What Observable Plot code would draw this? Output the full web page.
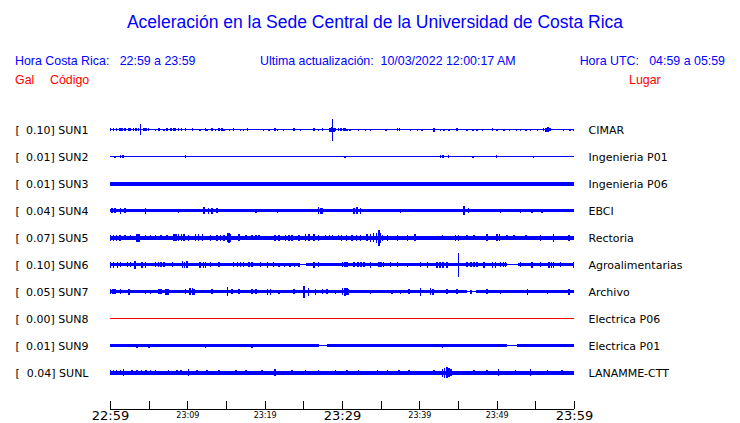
<!DOCTYPE html>
<html><head><meta charset="utf-8">
<script src="https://cdn.jsdelivr.net/npm/d3@7"></script>
<script src="https://cdn.jsdelivr.net/npm/@observablehq/plot@0.6"></script>
<style>
body{margin:0;background:#fff;width:740px;height:423px;overflow:hidden}
#head{position:relative;height:90px;font-family:"Liberation Sans",Arial,sans-serif;white-space:pre}
#head div{position:absolute;line-height:1}
.blue{color:#0000ff}.red{color:#ff0000}
#chart svg{display:block}
</style></head><body>
<div id="head"></div>
<div id="chart"></div>
<script>
// ---- texts ----
const title = "Aceleración en la Sede Central de la Universidad de Costa Rica";
const horaCR = "Hora Costa Rica:   22:59 a 23:59";
const ultima = "Ultima actualización:  10/03/2022 12:00:17 AM";
const horaUTC = "Hora UTC:   04:59 a 05:59";
const colGal = "Gal", colCodigo = "Código", colLugar = "Lugar";

// ---- stations ----
const codes  = ["SUN1","SUN2","SUN3","SUN4","SUN5","SUN6","SUN7","SUN8","SUN9","SUNL"];
const galMax = ["0.10","0.01","0.01","0.04","0.07","0.10","0.05","0.00","0.01","0.04"];
const places = ["CIMAR","Ingenieria P01","Ingenieria P06","EBCI","Rectoria","Agroalimentarias","Archivo","Electrica P06","Electrica P01","LANAMME-CTT"];
// background (noise) half-amplitude of each trace, relative units
const baseAmp = [0.5, 0.5, 2.0, 1.5, 2.0, 1.5, 1.5, 0.5, 1.5, 2.0];
// quiet stretches [startMinute, endMinute]
const quiet = {
  SUN6: [[24.5,25.4],[51.4,52.7]],
  SUN7: [[46.2,47.3]],
  SUN9: [[27.0,28.1],[51.3,52.6]]
};
// bursts [minute after 22:59, half-amplitude]
const bursts = {
  SUN1: [[0,1.5],[0.4,1.5],[0.8,1.5],[1.2,1.5],[1.5,1.5],[1.9,1.5],[2.4,1.5],[2.6,1.5],[3.0,1.5],[3.3,1.5],[3.6,1.5],[3.9,5.5],[4.3,1.5],[4.6,1.5],[4.9,1.5],[5.8,1],[6.25,1.5],[6.9,1],[7.3,1.5],[7.8,1.5],[8.2,1.5],[8.4,1.5],[8.8,1.5],[9.2,1.5],[9.7,1.5],[10.6,1.5],[11.6,1],[12.3,1.5],[12.5,1],[13.1,1.5],[13.6,1],[14.0,1.5],[14.4,1.5],[14.7,1],[15.4,1],[15.9,1.5],[16.8,1],[17.2,1],[17.7,1.5],[19.8,1],[20.5,1],[21.3,1.5],[21.6,1],[22.4,1],[23.7,1.5],[24.6,1],[26.3,1.5],[26.9,1],[27.4,1.5],[28.4,2],[28.6,2.5],[28.7,11],[28.9,2],[29.1,1.5],[29.5,1.5],[29.8,1.5],[30.1,1.5],[30.3,1.5],[30.6,1],[31.0,1],[32.1,1],[33.0,1],[33.6,1],[35.6,1],[37.1,1.5],[37.4,1.5],[38.8,1],[39.7,1],[40.3,1],[41.8,2],[42.7,1],[43.1,1],[43.8,1],[44.8,1.5],[46.1,1],[46.9,1],[47.4,1],[48.1,1],[49.4,1.5],[50.0,1],[50.9,1],[51.6,1],[52.5,1],[53.0,1],[53.7,1],[54.3,1],[55.2,1],[56.0,1.5],[56.3,2],[56.6,2.5],[56.8,1.5],[58.6,1],[59.4,1],[59.9,1]],
  SUN2: [[0.6,1],[1.3,1.5],[1.6,1.5],[9.7,1.5],[30.3,1],[42.7,1.5],[43.0,1.5],[43.7,1.5],[46.9,1],[49.9,1.5],[54.7,1]],
  SUN3: [],
  SUN4: [[0.2,2.5],[0.6,2.5],[1.3,3],[1.9,2.5],[4.5,3],[8.8,2],[12.1,3.5],[12.7,3],[13.1,3],[13.8,2.5],[18.8,2],[21.6,2],[26.9,3.5],[27.2,3],[27.4,3],[31.5,3],[31.9,3.5],[32.3,3],[37.5,2],[45.7,4.5],[46.3,2.5],[50.4,2],[53.0,2],[54.5,2],[55.8,2]],
  SUN5: [[0,3],[0.4,3],[0.8,3],[1.2,3],[1.9,2.5],[2.6,2.5],[3.4,4],[3.7,4],[4.5,2.5],[5.2,2.5],[5.8,2.5],[6.5,2.5],[7.3,2.5],[8.2,3.5],[8.5,3.5],[8.8,3.5],[9.2,3.5],[9.5,3.5],[10.1,3],[11.0,3.5],[11.4,3.5],[11.9,3.5],[12.9,3],[13.8,3],[14.2,3],[14.7,3],[15.1,4.5],[15.3,5],[15.5,4],[16.6,3.5],[17.5,2.5],[18.3,2.5],[18.8,2.5],[19.2,2.5],[21.3,3],[21.8,3],[22.6,3],[23.1,3],[23.5,3],[24.4,3],[25.2,3.5],[25.7,3.5],[26.3,3.5],[26.9,3],[27.8,2.5],[28.3,2.5],[28.7,2.5],[29.5,2.5],[29.9,3],[30.5,3],[31.2,3],[31.8,3],[32.3,3],[33.2,3.5],[33.6,4],[34.0,4.5],[34.4,5],[34.7,8],[34.9,5],[35.2,3],[35.8,3],[37.1,3],[38.4,3],[39.4,3.5],[42.9,2.5],[44.6,3],[45.0,3],[46.1,2.5],[47.0,2.5],[48.7,3.5],[50.0,3.5],[50.3,3.5],[51.3,2.5],[52.2,2.5],[53.7,2.5],[55.6,3],[57.3,4],[59.3,3]],
  SUN6: [[0,3],[0.4,3],[0.9,3],[1.3,2.5],[2.2,2.5],[2.6,2.5],[3.2,4],[4.1,3],[4.5,3],[5.8,2.5],[6.2,2.5],[6.5,2.5],[6.9,2.5],[8.0,2.5],[9.3,3.5],[9.6,3],[9.9,3.5],[11.6,3],[12.0,3],[12.3,3],[12.9,2.5],[14.0,2.5],[15.9,2.5],[16.4,2.5],[16.8,2.5],[17.2,2.5],[17.9,2.5],[18.3,2.5],[19.4,2.5],[20.3,3],[21.1,2.5],[21.8,2],[22.5,2],[23.2,2],[23.8,2],[24.4,2],[26.3,3],[26.9,2.5],[30.0,2.5],[30.3,2.5],[30.6,2.5],[31.5,2.5],[32.0,2.5],[32.4,2.5],[32.8,2.5],[33.6,3],[34.7,2.5],[35.0,2.5],[35.3,2.5],[36.2,2.5],[37.1,2.5],[38.4,2],[40.1,2.5],[41.0,3],[42.2,3],[42.6,3],[43.0,3],[43.5,3],[45.0,12],[46.1,2.5],[46.6,2.5],[47.0,2.5],[47.4,2.5],[48.3,3],[49.4,3],[49.8,3],[50.4,2.5],[50.8,2.5],[51.1,2.5],[53.0,2.5],[54.5,3],[55.6,2.5],[56.7,3],[57.0,3],[57.3,3],[58.2,2.5],[59.9,3]],
  SUN7: [[0,2.5],[0.3,2.5],[0.6,2.5],[1.3,2.5],[2.4,3],[4.5,2],[5.2,2],[6.25,2.5],[6.5,2.5],[7.1,3],[7.3,3],[7.5,3],[9.7,2.5],[10.3,3.5],[10.6,3.5],[10.8,3],[13.1,2.5],[15.1,4.5],[15.7,2.5],[16.6,2.5],[18.3,2.5],[18.8,2.5],[20.3,3],[20.7,3],[21.8,2],[23.7,2.5],[25.0,6],[25.6,4],[26.5,3],[27.4,2.5],[28.0,2.5],[29.1,2],[30.0,3.5],[30.3,4],[30.6,3.5],[30.8,3],[33.6,2],[36.4,2],[37.5,2],[38.6,2.5],[40.1,4],[41.4,3.5],[41.7,3],[43.5,2.5],[44.8,2.5],[46.6,2],[48.7,2.5],[50.4,2],[53.9,3],[56.5,2],[59.3,3]],
  SUN8: [],
  SUN9: [[3.4,2],[5.0,2],[12.3,2],[18.3,2],[42.9,2]],
  SUNL: [[0,2.5],[0.4,2.5],[0.8,2.5],[1.3,2.5],[1.7,3.5],[2.8,2.5],[3.4,2.5],[4.0,2.5],[4.6,2.5],[5.2,2.5],[5.8,2.5],[7.5,2.5],[8.6,2.5],[9.1,2.5],[10.1,3.5],[11.2,2.5],[12.5,2.5],[14.0,2.5],[16.2,2.5],[17.5,2.5],[19.6,2.5],[21.3,3.5],[23.5,2.5],[25.2,2.5],[26.9,2.5],[29.1,2.5],[30.6,2.5],[32.1,2.5],[34.5,2.5],[35.8,2.5],[37.3,2.5],[38.6,2.5],[41.8,2.5],[42.9,4],[43.2,5],[43.5,5.5],[43.8,4.5],[44.0,3.5],[47.0,2.5],[48.7,2.5],[50.2,3.5],[52.4,2.5],[54.3,3.5],[56.5,2.5],[58.4,2.5]]
};
// time axis (minutes after 22:59)
const tickMinutes = [0,5,10,15,20,25,30,35,40,45,50,55,60];
const majorTicks = [[0,"22:59"],[30,"23:29"],[60,"23:59"]];
const minorTicks = [[10,"23:09"],[20,"23:19"],[40,"23:39"],[50,"23:49"]];

// ---- header ----
const head = document.getElementById("head");
function addText(txt, cls, style){const d=document.createElement("div");d.className=cls;d.textContent=txt;Object.assign(d.style,style);head.appendChild(d);}
addText(title,"blue",{left:"0",width:"750px",textAlign:"center",top:"14px",fontSize:"17.5px"});
addText(horaCR,"blue",{left:"15px",top:"55px",fontSize:"12.4px"});
addText(ultima,"blue",{left:"260px",top:"55px",fontSize:"12.4px"});
addText(horaUTC,"blue",{right:"15px",top:"55px",fontSize:"12.4px"});
addText(colGal,"red",{left:"15px",top:"74px",fontSize:"12.4px"});
addText(colCodigo,"red",{left:"50px",top:"74px",fontSize:"12.4px"});
addText(colLugar,"red",{left:"629px",top:"74px",fontSize:"12.4px"});

// ---- chart ----
const rowGap = 27;
const yDomain = [279.5, -39.5];
const axisY = 279;
const t0 = 0, t1 = 60;
const traceColor = g => (+g === 0 ? "#ff0000" : "#0000ff");
const stations = codes.map((c,i)=>({code:c, gal:galMax[i], place:places[i], row:i*rowGap, base:baseAmp[i], color:traceColor(galMax[i])}));

// band segments: base amplitude except quiet stretches
const segs = [];
stations.forEach(s=>{
  const q = (quiet[s.code]||[]).slice().sort((a,b)=>a[0]-b[0]);
  let cur = t0;
  q.forEach(([a,b])=>{ segs.push({s, x1:cur, x2:a, amp:s.base}); segs.push({s, x1:a, x2:b, amp:0.5}); cur=b; });
  segs.push({s, x1:cur, x2:t1, amp:s.base});
});
const spikes = [];
stations.forEach(s=> (bursts[s.code]||[]).forEach(([m,a])=>spikes.push({s, m, a})));

const font = "DejaVu Sans, sans-serif";
const chart = Plot.plot({
  width:740, height:333,
  marginLeft:110, marginRight:166, marginTop:0, marginBottom:14,
  x:{domain:[t0,t1], axis:null},
  y:{domain:yDomain, axis:null},
  style:{fontFamily:font, background:"#fff"},
  marks:[
    Plot.rect(segs, {x1:"x1", x2:"x2", y1:d=>d.s.row-d.amp, y2:d=>d.s.row+d.amp, fill:d=>d.s.color, shapeRendering:"crispEdges"}),
    Plot.ruleX(spikes, {x:"m", y1:d=>d.s.row-d.a, y2:d=>d.s.row+d.a, stroke:d=>d.s.color, strokeWidth:1.5, shapeRendering:"crispEdges"}),
    Plot.text(stations, {x:()=>t0, y:"row", text:()=>"[", textAnchor:"start", dx:-95, fontSize:11, fill:"#000"}),
    Plot.text(stations, {x:()=>t0, y:"row", text:d=>`${d.gal}] ${d.code}`, textAnchor:"end", dx:-22, fontSize:11, fill:"#000"}),
    Plot.text(stations, {x:()=>t1, y:"row", text:"place", textAnchor:"start", dx:14, fontSize:11, fill:"#000"}),
    Plot.ruleY([axisY], {x1:t0, x2:t1, stroke:"#000", shapeRendering:"crispEdges"}),
    Plot.ruleX(tickMinutes, {x:d=>d, y1:axisY, y2:axisY-8, stroke:"#000", shapeRendering:"crispEdges"}),
    Plot.text(majorTicks, {x:d=>d[0], y:()=>axisY, text:d=>d[1], lineAnchor:"top", dy:2, fontSize:13, fill:"#000"}),
    Plot.text(minorTicks, {x:d=>d[0], y:()=>axisY, text:d=>d[1], lineAnchor:"top", dy:3, fontSize:8, fill:"#000"})
  ]
});
document.getElementById("chart").appendChild(chart);
</script>
</body></html>
